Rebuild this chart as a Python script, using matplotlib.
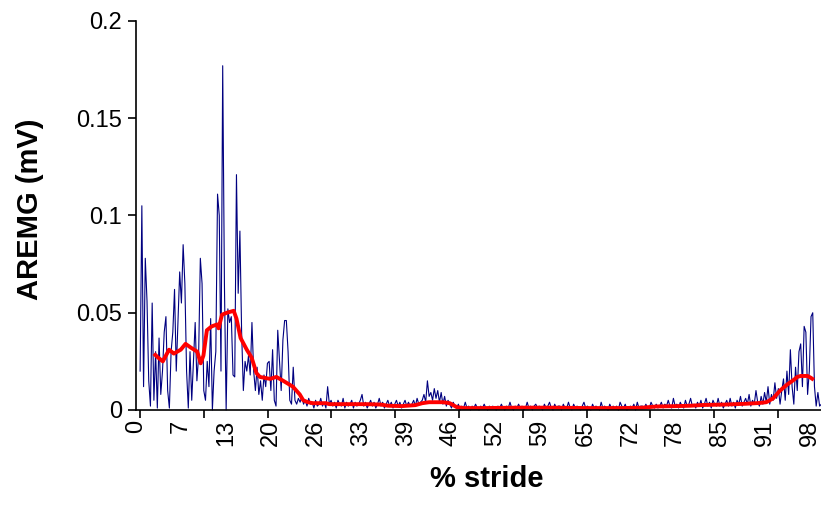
import matplotlib

matplotlib.use("Agg")
import matplotlib.pyplot as plt
import numpy as np

plt.rcParams["font.family"] = ["Liberation Sans", "DejaVu Sans"]

# raw rectified EMG, one sample every 0.25 % of stride, values in microvolts
STEP_PCT = 0.25
AREMG_UV = [
    20, 105, 12, 78,   56, 15, 2, 55,     5, 30, 1, 37,     8, 20, 40, 48,
    10, 1, 30, 40,     62, 20, 45, 71,    55, 85, 65, 20,   1, 30, 5, 25,
    45, 15, 28, 78,    65, 10, 5, 25,     12, 47, 0, 20,    30, 111, 100, 20,
    177, 65, 0, 52,    45, 48, 18, 17,    121, 60, 92, 40,  10, 25, 20, 28,
    18, 45, 20, 10,    22, 8, 15, 5,      18, 12, 24, 25,   10, 31, 5, 2,
    41, 25, 10, 36,    46, 46, 30, 5,     3, 22, 5, 3,      6, 4, 7, 3,
    5, 2, 6, 3,        4, 1, 5, 2,        3, 6, 2, 4,       1, 12, 3, 5,
    2, 4, 1, 5,        3, 2, 6, 1,        4, 2, 3, 5,       1, 4, 2, 3,
    5, 8, 2, 4,        1, 3, 5, 2,        4, 1, 3, 6,       2, 4, 1, 3,
    5, 2, 4, 1,        3, 5, 2, 4,        1, 3, 5, 2,       4, 2, 3, 5,
    2, 6, 3, 4,        5, 8, 4, 15,       7, 9, 5, 11,      6, 10, 4, 9,
    3, 7, 2, 5,        3, 1, 4, 2,        1, 3, 0, 2,       1, 4, 1, 2,
    0, 2, 1, 3,        1, 0, 2, 1,        3, 1, 0, 2,       1, 2, 1, 0,
    2, 1, 3, 1,        0, 2, 1, 4,        1, 0, 2, 1,       3, 1, 2, 0,
    1, 4, 1, 2,        0, 2, 3, 1,        2, 1, 0, 3,       1, 2, 4, 1,
    0, 3, 1, 2,        2, 0, 3, 1,        1, 4, 1, 0,       3, 1, 2, 1,
    0, 2, 4, 1,        2, 1, 0, 3,        1, 2, 1, 0,       4, 1, 2, 1,
    0, 3, 1, 2,        1, 2, 0, 4,        2, 1, 3, 0,       1, 2, 1, 3,
    0, 4, 1, 2,        2, 1, 3, 1,        1, 4, 2, 1,       3, 1, 2, 4,
    1, 3, 2, 5,        2, 1, 6, 2,        3, 1, 4, 2,       1, 5, 2, 3,
    6, 2, 3, 1,        4, 2, 5, 1,        3, 6, 2, 4,       1, 5, 3, 2,
    6, 2, 4, 1,        3, 5, 2, 6,        2, 4, 1, 5,       3, 7, 2, 4,
    6, 3, 8, 2,        5, 3, 10, 4,       2, 7, 3, 9,       4, 12, 3, 8,
    5, 14, 6, 11,      3, 10, 16, 5,      20, 8, 31, 12,    3, 22, 10, 30,
    34, 12, 43, 40,    8, 20, 48, 50,     12, 2, 9, 2,      3,
]

# moving-average envelope
SMOOTH_PCT = [
    2.0, 2.6, 3.3, 4.2, 4.9, 5.9, 6.6, 7.4, 8.3, 8.8, 9.2, 9.7, 10.4, 11.2,
    11.4, 11.9, 12.6, 13.6, 14.0, 14.6, 15.5, 16.2, 16.9, 17.4, 18.9, 19.8,
    20.8, 22.2, 23.2, 23.7, 24.4, 25.1, 27.0, 27.5, 30.0, 33.0, 35.0, 36.0,
    38.0, 40.0, 41.0, 42.0, 44.0, 45.0, 45.5, 46.0, 47.0, 50.0, 55.0, 60.0,
    65.0, 70.0, 73.0, 75.0, 78.0, 80.0, 82.0, 85.0, 88.0, 90.0, 91.0, 92.0,
    93.0, 94.0, 95.0, 95.5, 96.0, 97.0, 97.5, 97.9,
]
SMOOTH_UV = [
    29, 27, 25, 31, 29, 31, 34, 32, 30, 24, 28, 41, 43, 44,
    42, 49, 50, 51, 47, 37, 31, 27, 19, 17, 16, 17,
    15, 12, 8, 5, 4, 3.5, 3.5, 3.0, 3.0, 3.0, 2.8, 2.2,
    2.0, 2.5, 3.5, 4.0, 4.0, 3.5, 2.5, 1.5, 1.0, 1.0, 1.2, 1.2,
    1.0, 1.0, 1.2, 1.8, 2.0, 2.2, 2.6, 2.8, 3.2, 3.6, 4.0, 6.0,
    10, 13, 15.5, 17, 17.5, 17.5, 16.5, 15.5,
]

CATEGORY_LABELS = ["0", "7", "13", "20", "26", "33", "39", "46",
                   "52", "59", "65", "72", "78", "85", "91", "98"]
Y_TICKS = [0, 0.05, 0.1, 0.15, 0.2]
Y_TICK_LABELS = ["0", "0.05", "0.1", "0.15", "0.2"]


def main() -> None:
    raw = np.array(AREMG_UV, dtype=float) / 1000.0
    stride = np.arange(len(raw)) * STEP_PCT
    smooth = np.array(SMOOTH_UV, dtype=float) / 1000.0

    fig = plt.figure(figsize=(8.21, 5.09), dpi=100)
    ax = fig.add_axes([136 / 821, 99 / 509, 685 / 821, 389 / 509])

    ax.plot(stride, raw, color="#000080", linewidth=0.8, clip_on=False)
    ax.plot(SMOOTH_PCT, smooth, color="#FF0000", linewidth=2.8,
            solid_capstyle="butt", clip_on=False)

    ax.set_xlim(0, 98.95)
    ax.set_ylim(0, 0.2)

    for side in ("top", "right"):
        ax.spines[side].set_visible(False)
    for side in ("left", "bottom"):
        ax.spines[side].set_linewidth(1.2)

    ax.set_yticks(Y_TICKS)
    ax.set_yticklabels(Y_TICK_LABELS, fontsize=17)
    ax.tick_params(axis="y", direction="out", length=6, width=1.2, pad=4)

    # tick marks and category labels sit on different intervals
    marks = np.arange(0, 99, 9.27)
    ax.set_xticks(marks)
    ax.set_xticklabels([])
    ax.tick_params(axis="x", which="major", direction="out", length=6, width=1.2)
    label_pos = np.arange(len(CATEGORY_LABELS)) * 6.53 - 0.6
    ax.set_xticks(label_pos, minor=True)
    ax.set_xticklabels(CATEGORY_LABELS, minor=True, rotation=90, fontsize=17)
    ax.tick_params(axis="x", which="minor", length=0, pad=7)

    ax.set_xlabel("% stride", fontsize=21, fontweight="bold")
    ax.xaxis.set_label_coords(0.512, -0.142)
    ax.set_ylabel("AREMG (mV)", fontsize=21, fontweight="bold")
    ax.yaxis.set_label_coords(-0.135, 0.515)

    fig.savefig("out.png", dpi=100)
    plt.close(fig)


if __name__ == "__main__":
    main()
